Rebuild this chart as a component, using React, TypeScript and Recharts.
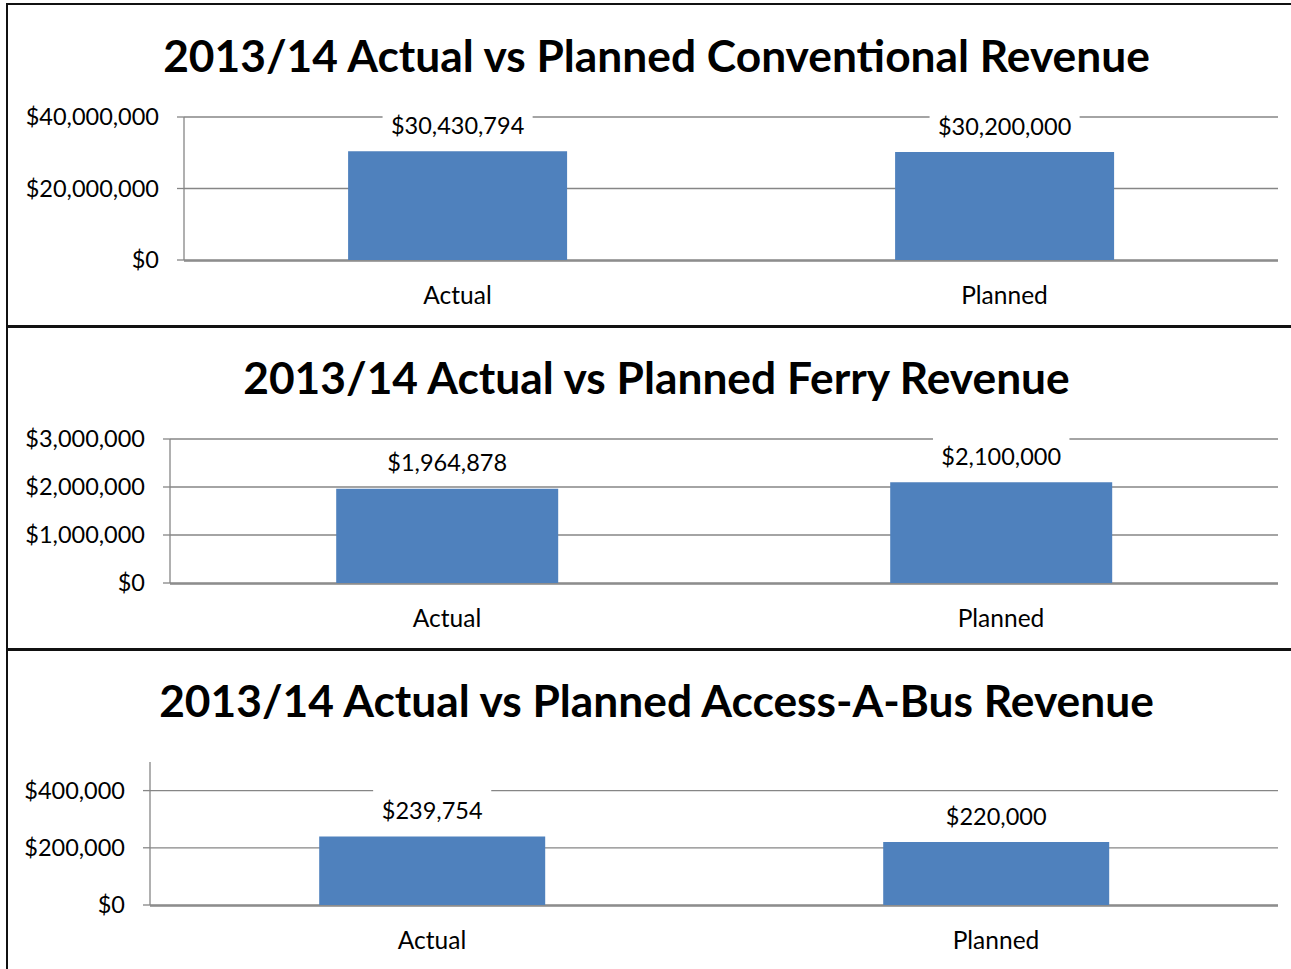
import React from "react";
import { BarChart, Bar, XAxis, YAxis, CartesianGrid, LabelList } from "recharts";

const categories = ["Actual", "Planned"];
const conventionalValues = [30430794, 30200000];
const ferryValues = [1964878, 2100000];
const accessABusValues = [239754, 220000];
const conventionalTicks = [0, 20000000, 40000000];
const ferryTicks = [0, 1000000, 2000000, 3000000];
const accessABusTicks = [0, 200000, 400000];
const conventionalDomain = [0, 40000000];
const ferryDomain = [0, 3000000];
const accessABusDomain = [0, 500000];
const titles = [
  "2013/14 Actual vs Planned Conventional Revenue",
  "2013/14 Actual vs Planned Ferry Revenue",
  "2013/14 Actual vs Planned Access-A-Bus Revenue",
];

const BOUNDARY_DOMAIN = [0, 2];
const BOUNDARY_TICKS = [0, 1, 2];

const FONT = "Lato, 'Open Sans', sans-serif";
const GRAY = "#868686";
const BLUE = "#4F81BD";
const W = 1291;
const SMALL_FS = 23.5;
const CAT_FS = 24.5;

const AXIS_LINE = { stroke: GRAY, strokeWidth: 1.3 };
const TICK_STYLE = { fill: "#000", fontSize: SMALL_FS, fontFamily: FONT };
const CAT_TICK_STYLE = { fill: "#000", fontSize: CAT_FS, fontFamily: FONT };

const fmt = (v: number) => "$" + Math.round(v).toLocaleString("en-US");

const estWidth = (s: string, fs: number) => {
  let w = 0;
  for (const ch of s) w += ch === "," ? 0.2 : 0.58;
  return w * fs;
};

const renderLabel = (props: any) => {
  const vb = props.viewBox || {};
  const x = props.x ?? vb.x;
  const y = props.y ?? vb.y;
  const width = props.width ?? vb.width;
  const text = fmt(Number(props.value));
  const cx = x + width / 2;
  const cy = y - 26.5;
  const tw = estWidth(text, SMALL_FS);
  return (
    <g>
      <rect x={cx - tw / 2 - 9} y={cy - 22} width={tw + 18} height={42} fill="#fff" />
      <text
        x={cx}
        y={cy}
        textAnchor="middle"
        dominantBaseline="central"
        fontFamily={FONT}
        fontSize={SMALL_FS}
        fill="#000"
      >
        {text}
      </text>
    </g>
  );
};

type PanelProps = {
  top: number;
  height: number;
  bottomMargin: number;
  title: string;
  titleTop: number;
  values: number[];
  ticks: number[];
  domain: number[];
  plotLeft: number;
};

function Panel({ top, height, bottomMargin, title, titleTop, values, ticks, domain, plotLeft }: PanelProps) {
  const data = categories.map((name, i) => ({ name, value: values[i], pos: i + 0.5 }));
  return (
    <>
      <div
        style={{
          position: "absolute",
          left: 0,
          top: titleTop,
          width: 1313,
          textAlign: "center",
          fontFamily: FONT,
          fontWeight: 700,
          fontSize: 44.3,
          lineHeight: "48px",
          color: "#000",
          whiteSpace: "nowrap",
        }}
      >
        {title}
      </div>
      <div style={{ position: "absolute", left: 0, top, width: W, height }}>
        <BarChart
          width={W}
          height={height}
          data={data}
          margin={{ top: 113, right: 13, bottom: bottomMargin, left: 0 }}
          barCategoryGap="30%"
        >
          <CartesianGrid
            horizontal={true}
            vertical={false}
            syncWithTicks={true}
            horizontalValues={ticks}
            stroke={GRAY}
            strokeWidth={1.3}
            xAxisId="cat"
            yAxisId="y"
          />
          <XAxis
            xAxisId="num"
            type="number"
            dataKey="pos"
            domain={BOUNDARY_DOMAIN}
            ticks={BOUNDARY_TICKS}
            allowDataOverflow
            height={1}
            tickSize={7}
            axisLine={AXIS_LINE}
            tickLine={AXIS_LINE}
            tick={false}
            interval={0}
          />
          <XAxis
            xAxisId="cat"
            dataKey="name"
            height={1}
            axisLine={false}
            tickLine={false}
            tickSize={0}
            tickMargin={27}
            interval={0}
            tick={CAT_TICK_STYLE}
          />
          <YAxis
            yAxisId="y"
            type="number"
            width={plotLeft}
            domain={domain}
            ticks={ticks}
            allowDataOverflow
            interval={0}
            tickSize={7}
            tickMargin={18}
            axisLine={AXIS_LINE}
            tickLine={AXIS_LINE}
            tick={TICK_STYLE}
            tickFormatter={fmt}
          />
          <Bar dataKey="value" xAxisId="cat" yAxisId="y" fill={BLUE} isAnimationActive={false}>
            <LabelList dataKey="value" content={renderLabel} />
          </Bar>
        </BarChart>
      </div>
    </>
  );
}

export default function App() {
  return (
    <div
      style={{
        position: "absolute",
        left: 0,
        top: 0,
        width: W,
        height: 969,
        overflow: "hidden",
        background: "#fff",
      }}
    >
      <Panel top={4} height={322} bottomMargin={64} title={titles[0]} titleTop={31} values={conventionalValues} ticks={conventionalTicks} domain={conventionalDomain} plotLeft={184} />
      <Panel top={326} height={323} bottomMargin={64} title={titles[1]} titleTop={353} values={ferryValues} ticks={ferryTicks} domain={ferryDomain} plotLeft={170} />
      <Panel top={649} height={320} bottomMargin={62} title={titles[2]} titleTop={676} values={accessABusValues} ticks={accessABusTicks} domain={accessABusDomain} plotLeft={150} />
      <div style={{ position: "absolute", left: 6, top: 3, width: 2, height: 966, background: "#111" }} />
      <div style={{ position: "absolute", left: 6, top: 3, width: 1285, height: 2, background: "#111" }} />
      <div style={{ position: "absolute", left: 6, top: 325, width: 1285, height: 3, background: "#111" }} />
      <div style={{ position: "absolute", left: 6, top: 648, width: 1285, height: 3, background: "#111" }} />
    </div>
  );
}
